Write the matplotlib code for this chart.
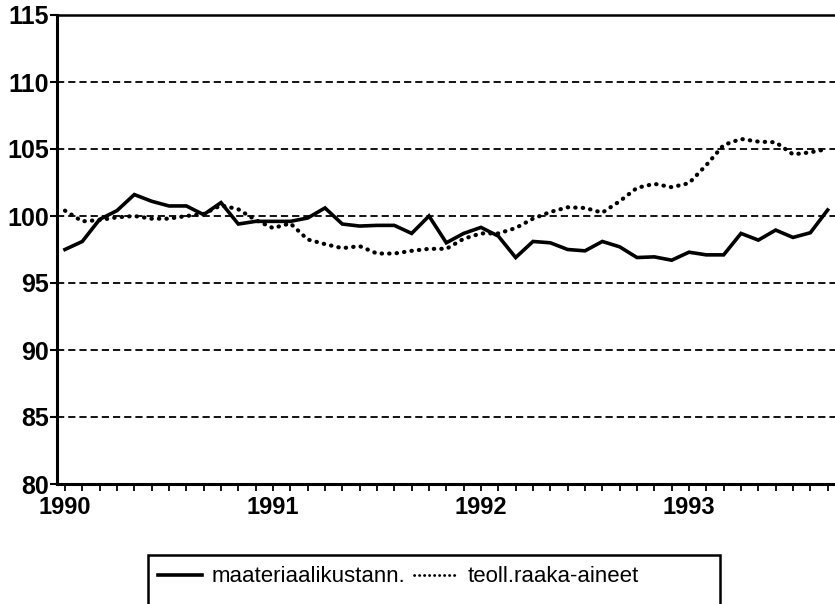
import matplotlib
matplotlib.use('Agg')
import matplotlib.pyplot as plt
from matplotlib.patches import Rectangle

plt.rcParams['font.family'] = ['Liberation Sans', 'DejaVu Sans']

# monthly index values, Jan 1990 .. Sep 1993
materiaalikustann = [97.5, 98.1, 99.75, 100.4, 101.6, 101.1, 100.75, 100.75, 100.1, 101.0,
                     99.4, 99.6, 99.6, 99.6, 99.85, 100.6, 99.4, 99.25, 99.3, 99.3,
                     98.7, 100.0, 98.0, 98.7, 99.15, 98.5, 96.9, 98.1, 98.0, 97.5,
                     97.4, 98.1, 97.7, 96.9, 96.95, 96.7, 97.3, 97.1, 97.1, 98.7,
                     98.2, 98.95, 98.4, 98.75, 100.45]
raaka_aineet = [100.4, 99.6, 99.7, 99.9, 100.0, 99.8, 99.8, 100.0, 100.15, 100.8,
                100.5, 99.7, 99.1, 99.45, 98.25, 97.9, 97.6, 97.75, 97.2, 97.2,
                97.4, 97.55, 97.55, 98.3, 98.7, 98.7, 99.1, 99.8, 100.3, 100.65,
                100.6, 100.25, 101.1, 102.1, 102.4, 102.15, 102.45, 103.8, 105.3, 105.75,
                105.55, 105.5, 104.6, 104.75, 105.0]
year_labels = ['1990', '1991', '1992', '1993']
year_label_pos = [0, 12, 24, 36]
y_ticks = [80, 85, 90, 95, 100, 105, 110, 115]
grid_levels = [85, 90, 95, 100, 105, 110]
legend_labels = ['maateriaalikustann.', 'teoll.raaka-aineet']

W, H = 835, 604
fig = plt.figure(figsize=(W / 100, H / 100), dpi=100)
ax = fig.add_axes([57 / W, 1 - 484 / H, (845 - 57) / W, (484 - 15) / H])

x = list(range(len(materiaalikustann)))

for g in grid_levels:
    ax.axhline(g, color='black', lw=1.3, ls=(0, (4, 2.2)), zorder=1)

l1, = ax.plot(x, materiaalikustann, color='black', lw=2.6, solid_joinstyle='miter', zorder=3)
l2, = ax.plot(x, raaka_aineet, color='black', lw=3.0, ls=(0, (0.1, 1.7)),
              dash_capstyle='round', zorder=3)

ax.set_xlim(-0.46, (845 - 65) / 17.35)
ax.set_ylim(80, 115)

ax.set_yticks(y_ticks)
ax.set_yticklabels([str(v) for v in y_ticks], fontweight='bold')
ax.tick_params(axis='y', direction='out', length=5, width=1.5, pad=1, labelsize=18)

ax.set_xticks(year_label_pos)
ax.set_xticklabels(year_labels, fontweight='bold')
ax.set_xticks(list(range(0, 46)), minor=True)
ax.tick_params(axis='x', which='major', direction='out', length=5, width=1.3, pad=4,
               labelsize=17)
ax.tick_params(axis='x', which='minor', direction='out', length=5, width=1.3)

ax.spines['right'].set_visible(False)
ax.spines['left'].set_linewidth(2.2)
ax.spines['bottom'].set_linewidth(2.2)
ax.spines['top'].set_linewidth(1.8)

# legend box (cut off at the bottom like the reference)
fig.add_artist(Rectangle((148 / W, -0.05), (720 - 148) / W, 0.05 + 1 - 555 / H,
                         transform=fig.transFigure, fill=False, lw=1.8, edgecolor='black'))
leg = fig.legend([l1, l2], legend_labels, loc='center left',
                 bbox_to_anchor=(158 / W, 1 - 577 / H),
                 ncol=2, frameon=False, fontsize=16, handlelength=2.0, columnspacing=0.4,
                 handletextpad=0.4, borderaxespad=0, borderpad=0)
leg.legend_handles[1].set_linewidth(2.0)

fig.savefig('out.png', dpi=100)
